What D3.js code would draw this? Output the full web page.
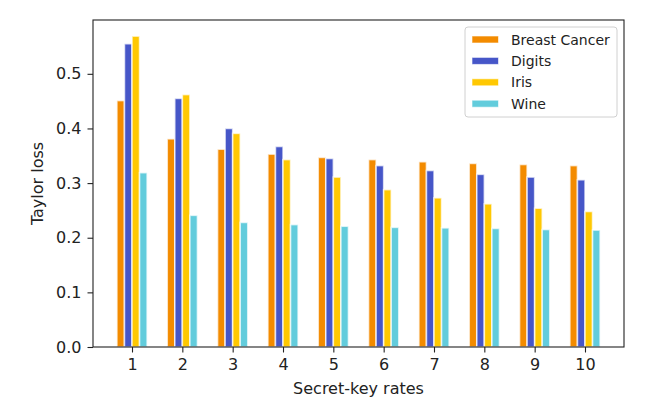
<!DOCTYPE html>
<html>
<head>
<meta charset="utf-8">
<script src="https://cdn.jsdelivr.net/npm/d3@7"></script>
<style>
  html, body { margin: 0; padding: 0; background: #fff; }
  svg { display: block; font-family: "DejaVu Sans", sans-serif; }
</style>
</head>
<body>
<svg id="chart" width="664" height="399"></svg>
<script>
const categories = [1, 2, 3, 4, 5, 6, 7, 8, 9, 10];
const seriesNames = ["Breast Cancer", "Digits", "Iris", "Wine"];
const breastCancer = [0.451, 0.381, 0.362, 0.353, 0.347, 0.343, 0.339, 0.336, 0.334, 0.332];
const digits       = [0.555, 0.455, 0.400, 0.367, 0.345, 0.332, 0.323, 0.316, 0.311, 0.306];
const iris         = [0.569, 0.462, 0.391, 0.343, 0.311, 0.288, 0.273, 0.262, 0.254, 0.248];
const wine         = [0.319, 0.241, 0.228, 0.224, 0.221, 0.219, 0.218, 0.217, 0.215, 0.214];
const yTicks = [0.0, 0.1, 0.2, 0.3, 0.4, 0.5];
const colors = ["#f38b00", "#4656c8", "#ffc802", "#62ccdc"];

const series = [breastCancer, digits, iris, wine];
const barW = 0.15;

const margin = { left: 93, right: 40, top: 20, bottom: 52 };
const W = 664, H = 399;
const svg = d3.select("#chart");

const x = d3.scaleLinear().domain([0.225, 10.775]).range([margin.left, W - margin.right]);
const y = d3.scaleLinear().domain([0, 0.5985]).range([H - margin.bottom, margin.top]);

// bars
series.forEach((vals, si) => {
  const off = (si - 1.5) * barW;
  svg.append("g")
    .selectAll("rect")
    .data(vals)
    .join("rect")
    .attr("x", (d, i) => x(categories[i] + off - barW / 2))
    .attr("width", (d, i) => x(categories[i] + off + barW / 2) - x(categories[i] + off - barW / 2))
    .attr("y", d => y(d))
    .attr("height", d => y(0) - y(d))
    .attr("fill", colors[si])
    .attr("stroke", "#fff")
    .attr("stroke-opacity", 0.7)
    .attr("stroke-width", 1.6);
});

// axes
const xAxis = d3.axisBottom(x).tickValues(categories).tickFormat(d3.format("d")).tickSizeOuter(0).tickSize(5.5).tickPadding(6);
const yAxis = d3.axisLeft(y).tickValues(yTicks).tickFormat(d3.format(".1f")).tickSizeOuter(0).tickSize(5.5).tickPadding(6);

const gx = svg.append("g").attr("transform", `translate(0,${H - margin.bottom})`).call(xAxis);
const gy = svg.append("g").attr("transform", `translate(${margin.left},0)`).call(yAxis);
[gx, gy].forEach(g => {
  g.select(".domain").remove();
  g.selectAll(".tick line").attr("stroke", "#222").attr("stroke-width", 1.1);
  g.selectAll(".tick text").attr("fill", "#222").style("font-size", "16px").style("font-family", "DejaVu Sans");
});

// frame
svg.append("rect")
  .attr("x", margin.left).attr("y", margin.top)
  .attr("width", W - margin.right - margin.left)
  .attr("height", H - margin.bottom - margin.top)
  .attr("fill", "none").attr("stroke", "#222").attr("stroke-width", 1.1);

// labels
svg.append("text")
  .attr("x", (margin.left + W - margin.right) / 2).attr("y", 394)
  .attr("text-anchor", "middle").attr("fill", "#222")
  .style("font-size", "16px").text("Secret-key rates");
svg.append("text")
  .attr("transform", `translate(43,${(margin.top + H - margin.bottom) / 2}) rotate(-90)`)
  .attr("text-anchor", "middle").attr("fill", "#222")
  .style("font-size", "16px").text("Taylor loss");

// legend
const lg = svg.append("g");
lg.append("rect")
  .attr("x", 465).attr("y", 27).attr("width", 152).attr("height", 90)
  .attr("rx", 3).attr("fill", "#fff").attr("fill-opacity", 0.8)
  .attr("stroke", "#d0d0d0").attr("stroke-width", 1);
seriesNames.forEach((name, i) => {
  const cy = 39.5 + i * 21.4;
  lg.append("rect").attr("x", 472).attr("y", cy - 3.5).attr("width", 26.5).attr("height", 7)
    .attr("fill", colors[i]).attr("stroke", "#fff").attr("stroke-opacity", 0.6).attr("stroke-width", 1);
  lg.append("text").attr("x", 511).attr("y", cy).attr("dy", "0.36em")
    .attr("fill", "#222").style("font-size", "14px").text(name);
});
</script>
</body>
</html>
